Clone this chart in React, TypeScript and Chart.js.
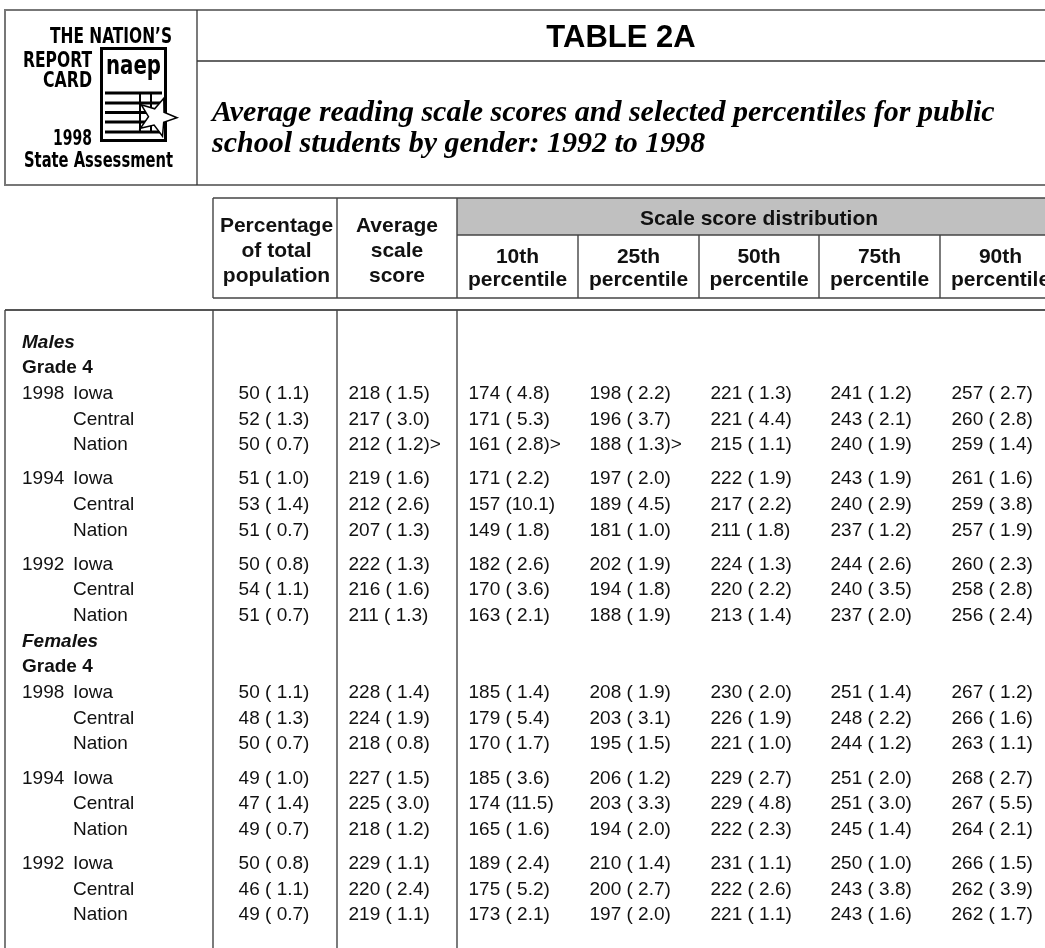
import React, { useEffect, useRef } from 'react';
import { Chart, registerables } from 'chart.js';

Chart.register(...registerables);

// ---------------- data ----------------
const GENDERS = ['Males', 'Females'];
const GRADE_LABEL = 'Grade 4';
const YEARS = ['1998', '1994', '1992'];
const PLACES = ['Iowa', 'Central', 'Nation'];

const LEFT_COLUMN_TITLES = [
  ['Percentage', 'of total', 'population'],
  ['Average', 'scale', 'score'],
];
const GROUP_TITLE = 'Scale score distribution';
const PERCENTILE_TITLES = ['10th', '25th', '50th', '75th', '90th'];
const PERCENTILE_WORD = 'percentile';

// [value, standard error]; rows: 1998 Iowa, Central, Nation, 1994 ..., 1992 ...
const MALES_PCT = [[50, 1.1], [52, 1.3], [50, 0.7], [51, 1.0], [53, 1.4], [51, 0.7], [50, 0.8], [54, 1.1], [51, 0.7]];
const MALES_AVG = [[218, 1.5], [217, 3.0], [212, 1.2], [219, 1.6], [212, 2.6], [207, 1.3], [222, 1.3], [216, 1.6], [211, 1.3]];
const MALES_P10 = [[174, 4.8], [171, 5.3], [161, 2.8], [171, 2.2], [157, 10.1], [149, 1.8], [182, 2.6], [170, 3.6], [163, 2.1]];
const MALES_P25 = [[198, 2.2], [196, 3.7], [188, 1.3], [197, 2.0], [189, 4.5], [181, 1.0], [202, 1.9], [194, 1.8], [188, 1.9]];
const MALES_P50 = [[221, 1.3], [221, 4.4], [215, 1.1], [222, 1.9], [217, 2.2], [211, 1.8], [224, 1.3], [220, 2.2], [213, 1.4]];
const MALES_P75 = [[241, 1.2], [243, 2.1], [240, 1.9], [243, 1.9], [240, 2.9], [237, 1.2], [244, 2.6], [240, 3.5], [237, 2.0]];
const MALES_P90 = [[257, 2.7], [260, 2.8], [259, 1.4], [261, 1.6], [259, 3.8], [257, 1.9], [260, 2.3], [258, 2.8], [256, 2.4]];

const FEMALES_PCT = [[50, 1.1], [48, 1.3], [50, 0.7], [49, 1.0], [47, 1.4], [49, 0.7], [50, 0.8], [46, 1.1], [49, 0.7]];
const FEMALES_AVG = [[228, 1.4], [224, 1.9], [218, 0.8], [227, 1.5], [225, 3.0], [218, 1.2], [229, 1.1], [220, 2.4], [219, 1.1]];
const FEMALES_P10 = [[185, 1.4], [179, 5.4], [170, 1.7], [185, 3.6], [174, 11.5], [165, 1.6], [189, 2.4], [175, 5.2], [173, 2.1]];
const FEMALES_P25 = [[208, 1.9], [203, 3.1], [195, 1.5], [206, 1.2], [203, 3.3], [194, 2.0], [210, 1.4], [200, 2.7], [197, 2.0]];
const FEMALES_P50 = [[230, 2.0], [226, 1.9], [221, 1.0], [229, 2.7], [229, 4.8], [222, 2.3], [231, 1.1], [222, 2.6], [221, 1.1]];
const FEMALES_P75 = [[251, 1.4], [248, 2.2], [244, 1.2], [251, 2.0], [251, 3.0], [245, 1.4], [250, 1.0], [243, 3.8], [243, 1.6]];
const FEMALES_P90 = [[267, 1.2], [266, 1.6], [263, 1.1], [268, 2.7], [267, 5.5], [264, 2.1], [266, 1.5], [262, 3.9], [262, 1.7]];

// significance markers: [gender index, row index, column index, symbol]
const MARKERS: [number, number, number, string][] = [
  [0, 2, 1, '>'],
  [0, 2, 2, '>'],
  [0, 2, 3, '>'],
];

const TABLE = [
  [MALES_PCT, MALES_AVG, MALES_P10, MALES_P25, MALES_P50, MALES_P75, MALES_P90],
  [FEMALES_PCT, FEMALES_AVG, FEMALES_P10, FEMALES_P25, FEMALES_P50, FEMALES_P75, FEMALES_P90],
];

// ---------------- layout (not data) ----------------
const PAGE_W = 1045;
const PAGE_H = 948;
const COL_EDGES = [5, 213, 337, 457, 578, 699, 819, 940, 1061];
const HEAD_TOP = 198;
const BAND_BOTTOM = 235;
const HEAD_BOTTOM = 298;
const BODY_TOP = 310;
const ROW_UNITS = 3;
const GAP_UNITS = 1;
const INK = '#111111';
const GRID = '#444444';
const SANS = '"Liberation Sans", Arial, sans-serif';

function fmt(v: number, se: number) {
  const s = se.toFixed(1);
  return `${v} (${se < 10 ? ' ' : ''}${s})`;
}

type Row = { slot: number; kind: 'gender' | 'grade' | 'data'; label: string; year?: string; g?: number; i?: number };

function buildRows(): Row[] {
  const rows: Row[] = [];
  let slot = 0;
  GENDERS.forEach((gName, g) => {
    rows.push({ slot, kind: 'gender', label: gName });
    slot += ROW_UNITS;
    rows.push({ slot, kind: 'grade', label: GRADE_LABEL });
    slot += ROW_UNITS;
    YEARS.forEach((year, yi) => {
      if (yi > 0) slot += GAP_UNITS;
      PLACES.forEach((place, pi) => {
        rows.push({ slot, kind: 'data', label: place, year: pi === 0 ? year : '', g, i: yi * PLACES.length + pi });
        slot += ROW_UNITS;
      });
    });
  });
  return rows;
}

const ROWS = buildRows();
const LAST_SLOT = ROWS[ROWS.length - 1].slot;

function seg(ctx: CanvasRenderingContext2D, x1: number, y1: number, x2: number, y2: number, color = GRID, w = 1.4) {
  ctx.save();
  ctx.strokeStyle = color;
  ctx.lineWidth = w;
  ctx.beginPath();
  ctx.moveTo(x1, y1);
  ctx.lineTo(x2, y2);
  ctx.stroke();
  ctx.restore();
}

const tablePlugin = {
  id: 'naepTable',
  afterDraw(chart: any) {
    const { ctx } = chart;
    const xs = chart.scales.x;
    const ys = chart.scales.y;
    const X = (v: number) => xs.getPixelForValue(v);
    const Y = (v: number) => ys.getPixelForValue(v);
    const E = COL_EDGES.map(X);
    const right = E[E.length - 1];

    ctx.save();
    // header band
    ctx.fillStyle = '#c0c0c0';
    ctx.fillRect(E[3], HEAD_TOP, right - E[3], BAND_BOTTOM - HEAD_TOP);

    // header grid
    seg(ctx, E[1], HEAD_TOP, right, HEAD_TOP);
    seg(ctx, E[1], HEAD_BOTTOM, right, HEAD_BOTTOM);
    seg(ctx, E[1], HEAD_TOP, E[1], HEAD_BOTTOM);
    seg(ctx, E[2], HEAD_TOP, E[2], HEAD_BOTTOM);
    seg(ctx, E[3], HEAD_TOP, E[3], HEAD_BOTTOM);
    seg(ctx, E[3], BAND_BOTTOM, right, BAND_BOTTOM);
    for (let c = 4; c < E.length - 1; c++) seg(ctx, E[c], BAND_BOTTOM, E[c], HEAD_BOTTOM);

    // body grid
    seg(ctx, E[0], BODY_TOP, right, BODY_TOP, '#555555', 1.8);
    [0, 1, 2, 3].forEach((c) => seg(ctx, E[c], BODY_TOP, E[c], PAGE_H + 10));

    // header text
    ctx.fillStyle = INK;
    ctx.font = `bold 21px ${SANS}`;
    ctx.textAlign = 'center';
    ctx.textBaseline = 'alphabetic';
    LEFT_COLUMN_TITLES.forEach((lines, k) => {
      const cx = (E[k + 1] + E[k + 2]) / 2 + (k === 0 ? 1.5 : 0);
      lines.forEach((t, li) => ctx.fillText(t, cx, 232 + li * 25));
    });
    ctx.fillText(GROUP_TITLE, (E[3] + right) / 2, 225);
    PERCENTILE_TITLES.forEach((t, k) => {
      const cx = (E[k + 3] + E[k + 4]) / 2;
      ctx.fillText(t, cx, 263);
      ctx.fillText(PERCENTILE_WORD, cx, 286);
    });

    // body text
    const base = 6.5;
    ROWS.forEach((r) => {
      const py = Y(r.slot) + base;
      ctx.textAlign = 'left';
      if (r.kind === 'gender') {
        ctx.font = `italic bold 19px ${SANS}`;
        ctx.fillText(r.label, X(22), py);
        return;
      }
      if (r.kind === 'grade') {
        ctx.font = `bold 19px ${SANS}`;
        ctx.fillText(r.label, X(22), py);
        return;
      }
      ctx.font = `19px ${SANS}`;
      if (r.year) ctx.fillText(r.year, X(22), py);
      ctx.fillText(r.label, X(73), py);
      const cols = TABLE[r.g as number];
      cols.forEach((series, c) => {
        const [v, se] = series[r.i as number];
        const mark = MARKERS.filter((m) => m[0] === r.g && m[1] === r.i && m[2] === c).map((m) => m[3]).join('');
        const txt = fmt(v, se);
        if (c === 0) {
          ctx.textAlign = 'center';
          ctx.fillText(txt, (E[1] + E[2]) / 2 - 1, py);
        } else {
          ctx.textAlign = 'left';
          const x0 = E[c + 1] + 11.5;
          ctx.fillText(txt + mark, x0, py);
        }
      });
    });
    ctx.restore();
  },
};

function star(cx: number, cy: number, ro: number, ri: number, rotDeg: number) {
  const pts: string[] = [];
  for (let k = 0; k < 10; k++) {
    const r = k % 2 === 0 ? ro : ri;
    const a = ((-90 + rotDeg + k * 36) * Math.PI) / 180;
    pts.push(`${(cx + r * Math.cos(a)).toFixed(1)},${(cy + r * Math.sin(a)).toFixed(1)}`);
  }
  return pts.join(' ');
}

function Header() {
  const narrow = "'Liberation Sans Narrow', 'DejaVu Sans Condensed', sans-serif";
  const sans = "'Liberation Sans', Arial, sans-serif";
  const serif = "'Liberation Serif', 'DejaVu Serif', serif";
  return (
    <svg width={PAGE_W} height={195} style={{ position: 'absolute', left: 0, top: 0 }}>
      <line x1={5} y1={10} x2={PAGE_W} y2={10} stroke="#777" strokeWidth={2} />
      <line x1={5} y1={185} x2={PAGE_W} y2={185} stroke="#777" strokeWidth={2} />
      <line x1={5} y1={9} x2={5} y2={186} stroke="#777" strokeWidth={2} />
      <line x1={197} y1={10} x2={197} y2={185} stroke="#333" strokeWidth={1.3} />
      <line x1={197} y1={61} x2={PAGE_W} y2={61} stroke="#333" strokeWidth={1.3} />

      {/* logo */}
      <g fill="#000" fontFamily={narrow} fontWeight="bold" fontSize={21}>
        <text x={50} y={43} textLength={122} lengthAdjust="spacingAndGlyphs">THE  NATION’S</text>
        <text x={23} y={67} textLength={69} lengthAdjust="spacingAndGlyphs">REPORT</text>
        <text x={43} y={87} textLength={49} lengthAdjust="spacingAndGlyphs">CARD</text>
        <text x={53} y={145} textLength={39} lengthAdjust="spacingAndGlyphs">1998</text>
        <text x={24} y={167} textLength={149} lengthAdjust="spacingAndGlyphs">State Assessment</text>
      </g>
      <rect x={101.5} y={48.5} width={64} height={92} fill="#fff" stroke="#000" strokeWidth={3} />
      <text x={106} y={74} fontFamily="'DejaVu Sans', sans-serif" fontWeight="bold" fontSize={27} textLength={55} lengthAdjust="spacingAndGlyphs" fill="#000">naep</text>
      {[93, 103, 112.5, 122, 132].map((yy) => (
        <line key={yy} x1={105} y1={yy} x2={162} y2={yy} stroke="#000" strokeWidth={3} />
      ))}
      <line x1={140} y1={92} x2={140} y2={133} stroke="#000" strokeWidth={2} />
      <line x1={151} y1={92} x2={151} y2={133} stroke="#000" strokeWidth={2} />
      <polygon points={star(157, 117, 20, 8.5, 20)} fill="#fff" stroke="#000" strokeWidth={1.5} />

      {/* titles */}
      <text x={621} y={47} textAnchor="middle" fontFamily={sans} fontWeight="bold" fontSize={31} fill="#000">TABLE 2A</text>
      <g fontFamily={serif} fontStyle="italic" fontWeight="bold" fontSize={30} fill="#000">
        <text x={212} y={121}>Average reading scale scores and selected percentiles for public</text>
        <text x={212} y={152}>school students by gender: 1992 to 1998</text>
      </g>
    </svg>
  );
}

export default function App() {
  const ref = useRef<HTMLCanvasElement | null>(null);
  useEffect(() => {
    if (!ref.current) return;
    const chart = new Chart(ref.current, {
      type: 'scatter',
      data: { datasets: [] },
      options: {
        animation: false,
        responsive: false,
        maintainAspectRatio: false,
        layout: { padding: 0 },
        plugins: { legend: { display: false }, tooltip: { enabled: false }, title: { display: false } },
        scales: {
          x: { type: 'linear', min: 0, max: PAGE_W, display: false },
          y: { type: 'linear', min: -39.9, max: LAST_SLOT + 4, reverse: true, display: false },
        },
      },
      plugins: [tablePlugin],
    } as any);
    return () => chart.destroy();
  }, []);
  return (
    <div style={{ position: 'absolute', left: 0, top: 0, width: PAGE_W, height: PAGE_H, background: '#fff', overflow: 'hidden' }}>
      <canvas ref={ref} width={PAGE_W} height={PAGE_H} style={{ position: 'absolute', left: 0, top: 0 }} />
      <Header />
    </div>
  );
}
